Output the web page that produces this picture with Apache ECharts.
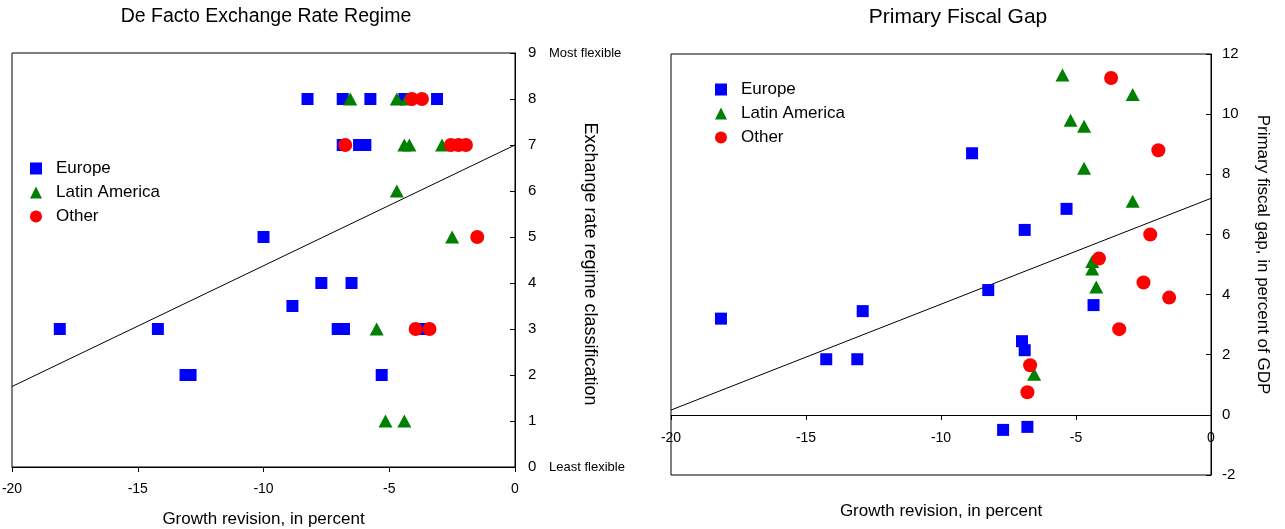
<!DOCTYPE html>
<html>
<head>
<meta charset="utf-8">
<script src="https://cdn.jsdelivr.net/npm/echarts@6/dist/echarts.min.js"></script>
<style>
html,body{margin:0;padding:0;background:#fff;}
#c{width:1285px;height:529px;}
</style>
</head>
<body>
<div id="c"></div>
<script>
// ---------- DATA ----------
const seriesNames = ['Europe', 'Latin America', 'Other'];

// Left panel: growth revision (x) vs de facto exchange rate regime (y)
const leftEurope = [[-18.1,3],[-14.2,3],[-13.1,2],[-12.9,2],[-8.25,8],[-10.0,5],[-8.85,3.5],[-7.7,4],
  [-6.85,8],[-5.75,8],[-4.4,8],[-3.1,8],[-6.85,7],[-6.2,7],[-5.95,7],[-6.5,4],[-7.05,3],[-6.8,3],[-3.65,3],[-5.3,2]];
const leftLatAm = [[-6.55,8],[-4.7,8],[-4.3,8],[-4.4,7],[-4.2,7],[-2.9,7],[-4.7,6],[-2.5,5],[-5.5,3],[-5.15,1],[-4.4,1]];
const leftOther = [[-4.1,8],[-3.7,8],[-6.75,7],[-2.55,7],[-2.25,7],[-1.95,7],[-1.5,5],[-3.95,3],[-3.4,3]];
const leftFitX = [-20, 0];
const leftFitY = [1.75, 7.0];
const leftYTicks = [0,1,2,3,4,5,6,7,8,9];
const leftYNotes = {0: 'Least flexible', 9: 'Most flexible'};

// Right panel: growth revision (x) vs primary fiscal gap (y)
const rightEurope = [[-18.15,3.2],[-14.25,1.85],[-13.1,1.85],[-12.9,3.45],[-8.85,8.7],[-8.25,4.15],[-6.9,6.15],
  [-5.35,6.85],[-7.0,2.45],[-6.9,2.15],[-4.35,3.65],[-7.7,-0.5],[-6.8,-0.4]];
const rightLatAm = [[-5.5,11.3],[-2.9,10.65],[-5.2,9.8],[-4.7,9.6],[-4.7,8.2],[-2.9,7.1],[-4.4,5.1],[-4.4,4.85],[-4.25,4.25],[-6.55,1.35]];
const rightOther = [[-3.7,11.2],[-1.95,8.8],[-2.25,6.0],[-4.15,5.2],[-2.5,4.4],[-1.55,3.9],[-3.4,2.85],[-6.7,1.65],[-6.8,0.75]];
const rightFitX = [-20, 0];
const rightFitY = [0.16, 7.2];

const titles = ['De Facto Exchange Rate Regime', 'Primary Fiscal Gap'];
const xTitle = 'Growth revision, in percent';
const yTitles = ['Exchange rate regime classification', 'Primary fiscal gap, in percent of GDP'];

// ---------- CHART ----------
const FONT = '"Liberation Sans", Arial, Helvetica, sans-serif';
const colors = {'Europe': '#0000ff', 'Latin America': '#008000', 'Other': '#ff0000'};
const symbols = {'Europe': 'rect', 'Latin America': 'triangle', 'Other': 'circle'};
const sizes = {'Europe': [12,12], 'Latin America': [14,13], 'Other': 14};

function zip(xs, ys){ return xs.map((x,i)=>[x, ys[i]]); }

function scatter(name, data, idx){
  return {
    type: 'scatter', name: name, data: data,
    xAxisIndex: idx, yAxisIndex: idx,
    symbol: symbols[name], symbolSize: sizes[name],
    itemStyle: {color: colors[name], opacity: 1},
    emphasis: {disabled: true},
    z: 3 + seriesNames.indexOf(name)
  };
}
function fitLine(data, idx){
  return {
    type: 'line', data: data, xAxisIndex: idx, yAxisIndex: idx,
    symbol: 'none', silent: true, z: 2,
    lineStyle: {color: '#000', width: 1}
  };
}

const axisCommon = {
  axisLine: {show: true, lineStyle: {color: '#000', width: 1}},
  splitLine: {show: false},
  nameMoveOverlap: false
};

const option = {
  animation: false,
  backgroundColor: '#fff',
  textStyle: {fontFamily: FONT, color: '#000'},
  title: [
    {text: titles[0], left: 266, top: 7, textAlign: 'center', padding: 0,
     textStyle: {fontFamily: FONT, fontSize: 19.5, fontWeight: 'normal', color: '#000'}},
    {text: titles[1], left: 958, top: 7, textAlign: 'center', padding: 0,
     textStyle: {fontFamily: FONT, fontSize: 21, fontWeight: 'normal', color: '#000'}}
  ],
  legend: [
    {data: seriesNames, orient: 'vertical', left: 30, top: 160, itemWidth: 12, itemHeight: 12, itemGap: 7,
     padding: 0, selectedMode: false,
     textStyle: {fontFamily: FONT, fontSize: 17, color: '#000', padding: [0,0,0,9]}},
    {data: seriesNames, orient: 'vertical', left: 715, top: 81, itemWidth: 12, itemHeight: 12, itemGap: 7,
     padding: 0, selectedMode: false,
     textStyle: {fontFamily: FONT, fontSize: 17, color: '#000', padding: [0,0,0,9]}}
  ],
  grid: [
    {left: 12, top: 53, width: 503, height: 414, show: true, borderColor: '#000', borderWidth: 1,
     backgroundColor: 'transparent', containLabel: false, outerBoundsMode: 'none'},
    {left: 671, top: 54, width: 540, height: 421, show: true, borderColor: '#000', borderWidth: 1,
     backgroundColor: 'transparent', containLabel: false, outerBoundsMode: 'none'}
  ],
  xAxis: [
    Object.assign({}, axisCommon, {
      gridIndex: 0, type: 'value', min: -20, max: 0, interval: 5, position: 'bottom',
      axisTick: {show: true, inside: false, length: 5, lineStyle: {color: '#000'}},
      axisLabel: {fontFamily: FONT, fontSize: 14, color: '#000', margin: 15, showMinLabel: true, showMaxLabel: true},
      name: xTitle, nameLocation: 'middle', nameGap: 44,
      nameTextStyle: {fontFamily: FONT, fontSize: 17, color: '#000'}
    }),
    Object.assign({}, axisCommon, {
      // axis drawn through y = 0 of the fiscal-gap scale (-2 .. 12 over 421px -> 60px above bottom)
      gridIndex: 1, type: 'value', min: -20, max: 0, interval: 5, position: 'bottom', offset: -60,
      axisLine: {show: true, onZero: false, lineStyle: {color: '#000', width: 1}},
      axisTick: {show: true, inside: false, length: 5, lineStyle: {color: '#000'}},
      axisLabel: {fontFamily: FONT, fontSize: 14, color: '#000', margin: 16, showMinLabel: true, showMaxLabel: true},
      name: xTitle, nameLocation: 'middle', nameGap: 88,
      nameTextStyle: {fontFamily: FONT, fontSize: 17, color: '#000'}
    })
  ],
  yAxis: [
    Object.assign({}, axisCommon, {
      gridIndex: 0, type: 'value', min: leftYTicks[0], max: leftYTicks[leftYTicks.length-1], interval: 1, position: 'right',
      axisTick: {show: true, inside: true, length: 5, lineStyle: {color: '#000'}},
      axisLabel: {
        fontFamily: FONT, fontSize: 15, color: '#000', margin: 13,
        formatter: function(v){ return leftYNotes[v] ? '{n|' + v + '}{s|' + leftYNotes[v] + '}' : String(v); },
        rich: {
          n: {fontFamily: FONT, fontSize: 15, color: '#000', width: 21},
          s: {fontFamily: FONT, fontSize: 13, color: '#000'}
        }
      },
      name: yTitles[0], nameLocation: 'middle', nameGap: 66, nameRotate: -90,
      nameTextStyle: {fontFamily: FONT, fontSize: 18, color: '#000', padding: [0, 0, 0, 8]}
    }),
    Object.assign({}, axisCommon, {
      gridIndex: 1, type: 'value', min: -2, max: 12, interval: 2, position: 'right',
      axisTick: {show: true, inside: true, length: 5, lineStyle: {color: '#000'}},
      axisLabel: {fontFamily: FONT, fontSize: 15, color: '#000', margin: 11},
      name: yTitles[1], nameLocation: 'middle', nameGap: 43, nameRotate: -90,
      nameTextStyle: {fontFamily: FONT, fontSize: 17, color: '#000', padding: [0, 20, 0, 0]}
    })
  ],
  series: [
    fitLine(zip(leftFitX, leftFitY), 0),
    scatter('Europe', leftEurope, 0),
    scatter('Latin America', leftLatAm, 0),
    scatter('Other', leftOther, 0),
    fitLine(zip(rightFitX, rightFitY), 1),
    scatter('Europe', rightEurope, 1),
    scatter('Latin America', rightLatAm, 1),
    scatter('Other', rightOther, 1)
  ]
};

const chart = echarts.init(document.getElementById('c'), null, {renderer: 'canvas'});
chart.setOption(option);
</script>
</body>
</html>
